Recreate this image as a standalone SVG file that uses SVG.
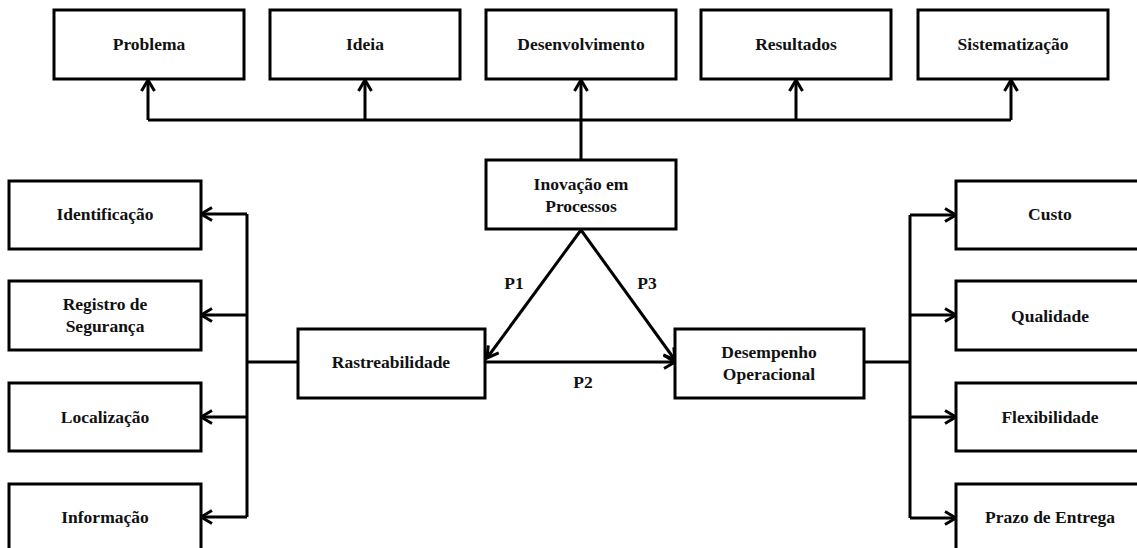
<svg xmlns="http://www.w3.org/2000/svg" width="1137" height="548" viewBox="0 0 1137 548">
<style>
.box{fill:#fff;stroke:#000;stroke-width:3}
.t{font-family:"Liberation Serif","Times New Roman",serif;font-weight:bold;font-size:17.5px;fill:#111;text-anchor:middle}
.c{fill:none;stroke:#000;stroke-width:3}
.a{marker-end:url(#arr)}
</style>
<defs>
<marker id="arr" markerUnits="userSpaceOnUse" markerWidth="16" markerHeight="16" viewBox="0 0 16 16" refX="14" refY="8" orient="auto">
<path d="M3,1.5 L14,8 L3,14.5" fill="none" stroke="#000" stroke-width="3"/>
</marker>
</defs>
<rect width="1137" height="548" fill="#fff"/>
<g id="connectors">
<path class="c" d="M148,120 H1011"/>
<path class="c a" d="M148,120 V80"/>
<path class="c a" d="M365,120 V80"/>
<path class="c a" d="M581,160 V80"/>
<path class="c a" d="M796,120 V80"/>
<path class="c a" d="M1011,120 V80"/>
<path class="c" d="M247,214 V517"/>
<path class="c" d="M247,362 H298"/>
<path class="c a" d="M247,214 H201"/>
<path class="c a" d="M247,315 H201"/>
<path class="c a" d="M247,417 H201"/>
<path class="c a" d="M247,517 H201"/>
<path class="c" d="M910,215 V518"/>
<path class="c" d="M864,362 H910"/>
<path class="c a" d="M910,215 H956"/>
<path class="c a" d="M910,315 H956"/>
<path class="c a" d="M910,417 H956"/>
<path class="c a" d="M910,518 H956"/>
<path class="c a" d="M581,230 L487,358"/>
<path class="c a" d="M581,230 L675,360"/>
<path class="c a" d="M486,362 H675"/>
<text class="t" x="514" y="289">P1</text>
<text class="t" x="647" y="289">P3</text>
<text class="t" x="583" y="388">P2</text>
</g>
<g id="problema"><rect class="box" x="54" y="10" width="190" height="69"/><text class="t" x="149" y="50">Problema</text></g>
<g id="ideia"><rect class="box" x="270" y="10" width="190" height="69"/><text class="t" x="365" y="50">Ideia</text></g>
<g id="desenvolvimento"><rect class="box" x="486" y="10" width="190" height="69"/><text class="t" x="581" y="50">Desenvolvimento</text></g>
<g id="resultados"><rect class="box" x="701" y="10" width="190" height="69"/><text class="t" x="796" y="50">Resultados</text></g>
<g id="sistematizacao"><rect class="box" x="918" y="10" width="190" height="69"/><text class="t" x="1013" y="50">Sistematização</text></g>
<g id="inovacao"><rect class="box" x="486" y="160" width="190" height="69"/><text class="t" x="581" y="190">Inovação em</text><text class="t" x="581" y="212">Processos</text></g>
<g id="rastreabilidade"><rect class="box" x="298" y="329" width="187" height="69"/><text class="t" x="391" y="368">Rastreabilidade</text></g>
<g id="desempenho"><rect class="box" x="675" y="329" width="189" height="69"/><text class="t" x="769" y="358">Desempenho</text><text class="t" x="769" y="380">Operacional</text></g>
<g id="identificacao"><rect class="box" x="9" y="181" width="192" height="68"/><text class="t" x="105" y="220">Identificação</text></g>
<g id="registro"><rect class="box" x="9" y="281" width="192" height="69"/><text class="t" x="105" y="310">Registro de</text><text class="t" x="105" y="332">Segurança</text></g>
<g id="localizacao"><rect class="box" x="9" y="383" width="192" height="68"/><text class="t" x="105" y="423">Localização</text></g>
<g id="informacao"><rect class="box" x="9" y="484" width="192" height="69"/><text class="t" x="105" y="523">Informação</text></g>
<g id="custo"><rect class="box" x="956" y="181" width="190" height="68"/><text class="t" x="1050" y="220">Custo</text></g>
<g id="qualidade"><rect class="box" x="956" y="281" width="190" height="69"/><text class="t" x="1050" y="322">Qualidade</text></g>
<g id="flexibilidade"><rect class="box" x="956" y="383" width="190" height="68"/><text class="t" x="1050" y="423">Flexibilidade</text></g>
<g id="prazo"><rect class="box" x="956" y="484" width="190" height="69"/><text class="t" x="1050" y="523">Prazo de Entrega</text></g>
</svg>
